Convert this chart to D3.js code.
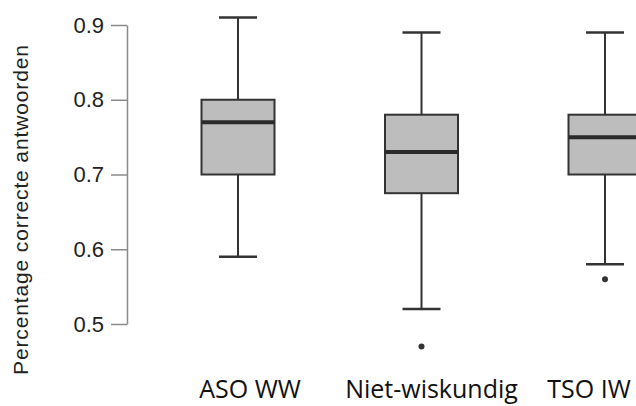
<!DOCTYPE html>
<html>
<head>
<meta charset="utf-8">
<script src="https://cdn.jsdelivr.net/npm/d3@7"></script>
<style>
  html, body { margin: 0; padding: 0; background: #fff; }
  svg { display: block; }
</style>
</head>
<body>
<svg id="chart" width="636" height="406"></svg>
<script>
// Groups and their box-plot statistics (proportion of correct answers)
const groups = ["ASO WW", "Niet-wiskundig", "TSO IW"];
const whiskerLow = [0.59, 0.52, 0.58];
const quartile1 = [0.70, 0.675, 0.70];
const medians = [0.77, 0.73, 0.75];
const quartile3 = [0.80, 0.78, 0.78];
const whiskerHigh = [0.91, 0.89, 0.89];
const outliers = [[], [0.47], [0.56]];
const yTicks = [0.5, 0.6, 0.7, 0.8, 0.9];
const yTitle = "Percentage correcte antwoorden";

const svg = d3.select("#chart");

const y = d3.scaleLinear().domain([0.5, 0.9]).range([324, 25]);
const x = d3.scalePoint().domain(groups).range([238, 605]);
const boxW = 73;
const capW = 38;
const dark = "#333";

// y axis
const yAxis = svg.append("g")
  .attr("transform", "translate(127,0)")
  .call(d3.axisLeft(y).tickValues(yTicks).tickFormat(d3.format(".1f"))
    .tickSize(16).tickSizeOuter(0).tickPadding(7));
yAxis.selectAll("path, line").attr("stroke", "#8a8a8a").attr("stroke-width", 1.5);
yAxis.selectAll("text")
  .attr("font-family", "'Liberation Sans', Arial, sans-serif")
  .attr("font-size", 22).attr("fill", "#222");

// y axis title
svg.append("text")
  .attr("transform", "translate(28,210) rotate(-90)")
  .attr("text-anchor", "middle")
  .attr("font-family", "'Liberation Sans', Arial, sans-serif")
  .attr("font-size", 21).attr("fill", "#222")
  .attr("textLength", 330).attr("lengthAdjust", "spacing")
  .text(yTitle);

// boxes
const rows = groups.map((g, i) => ({
  g, lo: whiskerLow[i], q1: quartile1[i], med: medians[i],
  q3: quartile3[i], hi: whiskerHigh[i], out: outliers[i]
}));

const box = svg.append("g").selectAll("g").data(rows).join("g")
  .attr("transform", d => `translate(${x(d.g)},0)`);

box.append("line")
  .attr("x1", 0).attr("x2", 0)
  .attr("y1", d => y(d.hi)).attr("y2", d => y(d.q3))
  .attr("stroke", dark).attr("stroke-width", 2);
box.append("line")
  .attr("x1", 0).attr("x2", 0)
  .attr("y1", d => y(d.q1)).attr("y2", d => y(d.lo))
  .attr("stroke", dark).attr("stroke-width", 2);
box.append("line")
  .attr("x1", -capW / 2).attr("x2", capW / 2)
  .attr("y1", d => y(d.hi)).attr("y2", d => y(d.hi))
  .attr("stroke", dark).attr("stroke-width", 2.5);
box.append("line")
  .attr("x1", -capW / 2).attr("x2", capW / 2)
  .attr("y1", d => y(d.lo)).attr("y2", d => y(d.lo))
  .attr("stroke", dark).attr("stroke-width", 2.5);
box.append("rect")
  .attr("x", -boxW / 2).attr("width", boxW)
  .attr("y", d => y(d.q3)).attr("height", d => y(d.q1) - y(d.q3))
  .attr("fill", "#bdbdbd").attr("stroke", dark).attr("stroke-width", 2);
box.append("line")
  .attr("x1", -boxW / 2).attr("x2", boxW / 2)
  .attr("y1", d => y(d.med)).attr("y2", d => y(d.med))
  .attr("stroke", "#2a2a2a").attr("stroke-width", 4);
box.selectAll("circle").data(d => d.out).join("circle")
  .attr("cx", 0).attr("cy", v => y(v)).attr("r", 3)
  .attr("fill", "#333");

// category labels
const labelNudge = [12, 10, -16];
svg.append("g").selectAll("text").data(groups).join("text")
  .attr("x", (d, i) => x(d) + labelNudge[i])
  .attr("y", 398)
  .attr("text-anchor", "middle")
  .attr("font-family", "'Open Sans', sans-serif")
  .attr("font-size", 25).attr("fill", "#111")
  .text(d => d);
</script>
</body>
</html>
